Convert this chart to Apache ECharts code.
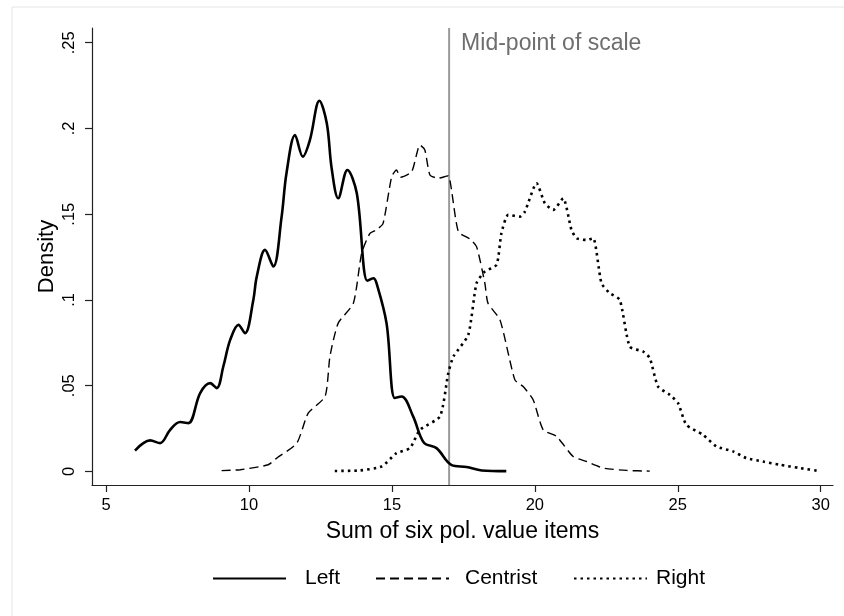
<!DOCTYPE html>
<html>
<head>
<meta charset="utf-8">
<title>Density of political value sums</title>
<script src="https://cdn.jsdelivr.net/npm/echarts@6/dist/echarts.min.js"></script>
<style>
  html, body { margin: 0; padding: 0; background: #ffffff; }
  #chart { width: 844px; height: 616px; }
</style>
</head>
<body>
<div id="chart"></div>
<script>
// Kernel density estimates of the summed value scale, by self-placement group
const leftX = [6.01, 6.54, 6.89, 7.24, 7.59, 7.88, 8.29, 8.64, 8.87, 9.10, 9.34, 9.63, 9.86, 10.15, 10.27, 10.56, 10.85, 11.14, 11.31, 11.61, 11.88, 12.13, 12.46, 12.72, 12.89, 13.12, 13.44, 13.77, 14.14, 14.35, 14.46, 14.81, 15.10, 15.34, 15.74, 16.12, 16.56, 17.09, 17.61, 18.14, 19.0];
const leftY = [0.0122, 0.0181, 0.0165, 0.0243, 0.0288, 0.0282, 0.0457, 0.0515, 0.0486, 0.0612, 0.0767, 0.0855, 0.0806, 0.1000, 0.1136, 0.1292, 0.1195, 0.1486, 0.1739, 0.1962, 0.1836, 0.1933, 0.2162, 0.2030, 0.1768, 0.1593, 0.1758, 0.1622, 0.1112, 0.1127, 0.1098, 0.0865, 0.0428, 0.0437, 0.0321, 0.0167, 0.0136, 0.0037, 0.0026, 0.0006, 0.0002];

const centristX = [9.04, 9.69, 10.67, 10.97, 11.67, 12.07, 12.66, 12.83, 13.12, 13.65, 13.94, 14.23, 14.46, 14.69, 14.99, 15.16, 15.30, 15.69, 15.98, 16.15, 16.33, 16.62, 16.85, 16.97, 17.32, 17.73, 17.96, 18.25, 18.36, 18.78, 19.30, 19.59, 19.94, 20.29, 20.76, 21.34, 21.81, 22.39, 23.21, 24.02];
const centristY = [0.0005, 0.0010, 0.0039, 0.0078, 0.0165, 0.0340, 0.0437, 0.0670, 0.0865, 0.0981, 0.1273, 0.1389, 0.1409, 0.1447, 0.1719, 0.1758, 0.1716, 0.1748, 0.1904, 0.1875, 0.1729, 0.1710, 0.1719, 0.1725, 0.1399, 0.1355, 0.1311, 0.1098, 0.0981, 0.0884, 0.0534, 0.0495, 0.0418, 0.0243, 0.0204, 0.0087, 0.0058, 0.0020, 0.0006, 0.0002];

const rightX = [13.0, 13.88, 14.64, 15.16, 15.63, 15.98, 16.68, 16.97, 17.15, 17.67, 17.96, 18.25, 18.66, 18.83, 19.07, 19.48, 19.65, 20.06, 20.35, 20.64, 20.99, 21.28, 21.46, 21.81, 22.04, 22.33, 22.62, 22.97, 23.32, 23.79, 24.02, 24.31, 24.72, 25.01, 25.30, 25.88, 26.35, 26.93, 27.40, 27.98, 28.57, 29.27, 29.97];
const rightY = [0.0003, 0.0006, 0.0029, 0.0107, 0.0136, 0.0243, 0.0321, 0.0573, 0.0670, 0.0797, 0.1098, 0.1166, 0.1205, 0.1389, 0.1496, 0.1486, 0.1515, 0.1681, 0.1564, 0.1525, 0.1593, 0.1409, 0.1360, 0.1350, 0.1360, 0.1098, 0.1040, 0.1001, 0.0728, 0.0699, 0.0661, 0.0495, 0.0447, 0.0398, 0.0272, 0.0214, 0.0146, 0.0117, 0.0078, 0.0058, 0.0039, 0.0020, 0.0002];

const groupNames = ['Left', 'Centrist', 'Right'];
const xTicks = [5, 10, 15, 20, 25, 30];
const yTicks = [0, 0.05, 0.1, 0.15, 0.2, 0.25];
const midpoint = 17;
const midpointLabel = 'Mid-point of scale';
const xTitle = 'Sum of six pol. value items';
const yTitle = 'Density';

const X_MIN = 4.506, X_MAX = 30.43;
const Y_MIN = -0.0079, Y_MAX = 0.2586;
const FONT = '"Liberation Sans", Arial, Helvetica, sans-serif';

const zip = (xs, ys) => xs.map((x, i) => [x, ys[i]]);

// One legend block per key so each key sits in its own column
const legendLefts = [212, 375, 573];
const legendTextPad = [14, 11, 4];
const legends = groupNames.map((name, i) => ({
  data: [name],
  left: legendLefts[i],
  bottom: 27,
  padding: 0,
  itemWidth: 73,
  itemHeight: 14,
  itemStyle: { opacity: 0 },
  textStyle: { fontSize: 21, color: '#000', fontFamily: FONT, padding: [0, 0, 0, legendTextPad[i]] }
}));

const chart = echarts.init(document.getElementById('chart'), null, { renderer: 'canvas' });

chart.setOption({
  backgroundColor: '#ffffff',
  animation: false,
  textStyle: { fontFamily: FONT },
  graphic: [
    { type: 'line', shape: { x1: 12, y1: 7, x2: 844, y2: 7 }, style: { stroke: '#e6e6e6', lineWidth: 1 }, silent: true },
    { type: 'line', shape: { x1: 12, y1: 7, x2: 12, y2: 616 }, style: { stroke: '#e6e6e6', lineWidth: 1 }, silent: true }
  ],
  grid: { left: 92, right: 11, top: 28, bottom: 131, containLabel: false },
  legend: legends,
  xAxis: {
    type: 'value',
    min: X_MIN,
    max: X_MAX,
    name: xTitle,
    nameLocation: 'middle',
    nameGap: 35,
    nameMoveOverlap: false,
    nameTextStyle: { fontSize: 23, color: '#000', fontFamily: FONT },
    axisLine: { show: true, onZero: false, lineStyle: { color: '#222', width: 1.2 } },
    axisTick: { show: true, length: 7, customValues: xTicks, lineStyle: { color: '#222', width: 1.2 } },
    axisLabel: { customValues: xTicks, fontSize: 16.5, color: '#000', margin: 12, fontFamily: FONT },
    splitLine: { show: false }
  },
  yAxis: {
    type: 'value',
    min: Y_MIN,
    max: Y_MAX,
    name: yTitle,
    nameLocation: 'middle',
    nameGap: 34,
    nameMoveOverlap: false,
    nameRotate: 90,
    nameTextStyle: { fontSize: 22, color: '#000', fontFamily: FONT },
    axisLine: { show: true, onZero: false, lineStyle: { color: '#222', width: 1.2 } },
    axisTick: { show: true, length: 7, customValues: yTicks, lineStyle: { color: '#222', width: 1.2 } },
    axisLabel: {
      customValues: yTicks,
      rotate: 90,
      fontSize: 16.5,
      color: '#000',
      margin: 14,
      fontFamily: FONT,
      formatter: v => (v === 0 ? '0' : String(v).replace(/^0/, ''))
    },
    splitLine: { show: false }
  },
  series: [
    {
      name: 'Mid-point',
      type: 'line',
      data: [[midpoint, Y_MIN], [midpoint, Y_MAX]],
      symbol: 'none',
      silent: true,
      lineStyle: { color: '#9a9a9a', width: 2 },
      endLabel: {
        show: true,
        formatter: midpointLabel,
        color: '#6e6e6e',
        fontSize: 23,
        fontFamily: FONT,
        align: 'left',
        verticalAlign: 'top',
        offset: [4, 4]
      },
      z: 1
    },
    {
      name: groupNames[0],
      type: 'line',
      data: zip(leftX, leftY),
      symbol: 'none',
      smooth: 0.35,
      lineStyle: { color: '#000', width: 2.6, type: 'solid' },
      itemStyle: { color: '#000' },
      z: 3
    },
    {
      name: groupNames[1],
      type: 'line',
      data: zip(centristX, centristY),
      symbol: 'none',
      smooth: 0.2,
      lineStyle: { color: '#000', width: 1.4, type: [9, 5] },
      itemStyle: { color: '#000' },
      z: 3
    },
    {
      name: groupNames[2],
      type: 'line',
      data: zip(rightX, rightY),
      symbol: 'none',
      smooth: 0.2,
      lineStyle: { color: '#000', width: 2.6, type: [2.5, 4] },
      itemStyle: { color: '#000' },
      z: 3
    }
  ]
});
</script>
</body>
</html>
